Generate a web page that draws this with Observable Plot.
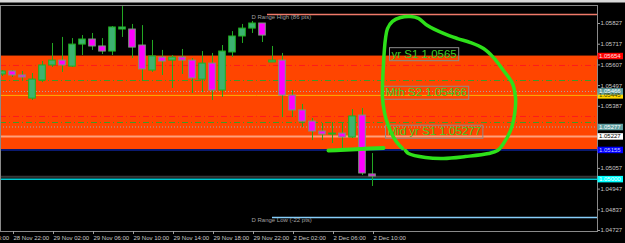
<!DOCTYPE html>
<html>
<head>
<meta charset="utf-8">
<script src="https://cdn.jsdelivr.net/npm/d3@7"></script>
<script src="https://cdn.jsdelivr.net/npm/@observablehq/plot@0.6"></script>
<style>
  html, body { margin: 0; padding: 0; background: #000; }
  #chart svg { display: block; }
</style>
</head>
<body>
<div id="chart"></div>
<script>
// ---------------- DATA ----------------
// hourly candles (bar index = position in array)
const candleOpen  = [1.05556,1.05572,1.05551,1.05428,1.05524,1.05604,1.05630,1.05598,1.05715,1.05742,1.05705,1.05678,1.05795,1.05795,1.05710,1.05577,1.05646,1.05630,1.05646,1.05630,1.05529,1.05614,1.05471,1.05673,1.05758,1.05800,1.05827,1.05620,1.05630,1.05444,1.05365,1.05306,1.05253,1.05237,1.05242,1.05221,1.05338,1.05025];
const candleHigh  = [1.05577,1.05577,1.05572,1.05561,1.05625,1.05721,1.05753,1.05747,1.05763,1.05774,1.05747,1.05811,1.05917,1.05822,1.05816,1.05737,1.05684,1.05657,1.05689,1.05641,1.05678,1.05668,1.05710,1.05784,1.05822,1.05838,1.05827,1.05705,1.05668,1.05471,1.05397,1.05322,1.05296,1.05301,1.05296,1.05370,1.05375,1.05136];
const candleLow   = [1.05545,1.05540,1.05524,1.05418,1.05513,1.05593,1.05567,1.05593,1.05657,1.05684,1.05662,1.05657,1.05753,1.05641,1.05519,1.05567,1.05551,1.05482,1.05556,1.05455,1.05460,1.05418,1.05434,1.05646,1.05721,1.05774,1.05726,1.05620,1.05327,1.05327,1.05274,1.05205,1.05205,1.05189,1.05163,1.05216,1.05019,1.04961];
const candleClose = [1.05572,1.05551,1.05540,1.05529,1.05604,1.05630,1.05604,1.05715,1.05742,1.05705,1.05678,1.05806,1.05806,1.05699,1.05583,1.05652,1.05625,1.05646,1.05630,1.05535,1.05614,1.05471,1.05678,1.05758,1.05800,1.05827,1.05763,1.05630,1.05444,1.05365,1.05306,1.05253,1.05237,1.05242,1.05221,1.05333,1.05030,1.05014];

// x-axis tick bars and labels
const xTickIdx = [-3, 1, 5, 9, 13, 17, 21, 25, 29, 33, 37];
const xTickLab = ["28 Nov 18:00","28 Nov 22:00","29 Nov 02:00","29 Nov 06:00","29 Nov 10:00","29 Nov 14:00","29 Nov 18:00","29 Nov 22:00","2 Dec 02:00","2 Dec 06:00","2 Dec 10:00"];

// y-axis ticks (1.05167 is hidden behind the 1.05155 price box in the original)
const yTicks = [1.05827,1.05717,1.05607,1.05497,1.05387,1.05277,1.05057,1.04947,1.04837,1.04727];

// shaded zone
const bandLow = 1.05155, bandHigh = 1.05654;

// horizontal levels
const levelPrice = [1.05604, 1.05524, 1.05466, 1.05445, 1.05333, 1.05301, 1.05277, 1.05227, 1.05155, 1.05012, 1.05000];

// daily range lines (start bar, price, label)
const rangePrice = [1.05875, 1.04796];
const rangeStart = [26.5, 27];
const rangeLabel = ["D Range High (86 pts)", "D Range Low (-22 pts)"];

// price boxes on the right axis
const boxPrice = [1.05445, 1.05654, 1.05466, 1.05277, 1.05227, 1.05155, 1.05000];
const boxText  = ["1.05445","1.05654","1.05466","1.05277","1.05227","1.05155","1.05000"];

// text annotations (bar, price, text)
const annText  = ["yr S1 1.0565", "Mth S2 1.05466", "Mid yr S1 1.05277"];
const annBar   = [38.9, 38.3, 38.5];
const annPrice = [1.05665, 1.05460, 1.05253];

// hand-drawn loop (bar, price)
const loopBar   = [40.3,40.6,42.3,44.1,46.3,48.6,49.5,50.1,50.8,51.1,51.3,51.3,51.0,50.1,49.1,48.1,46.8,45.5,44.1,42.5,41.6,40.8,39.8,39.0,38.5,38.3,38.1,38.0,38.2,38.5,39.3,40.0];
const loopPrice = [1.05152,1.05136,1.05115,1.05110,1.05120,1.05136,1.05152,1.05189,1.05258,1.05312,1.05391,1.05434,1.05508,1.05577,1.05646,1.05694,1.05726,1.05747,1.05774,1.05816,1.05854,1.05864,1.05859,1.05838,1.05800,1.05747,1.05614,1.05434,1.05354,1.05296,1.05205,1.05163];
// hand-drawn underline (bar, price)
const underBar   = [32.6, 33.8, 35.8, 38.1];
const underPrice = [1.05152, 1.05155, 1.05160, 1.05165];

// ---------------- STYLES ----------------
const LEVEL_STYLE = [
  {c:"#ff1a1a", dash:"6,3,1,3", w:1},
  {c:"#3f9a2a", dash:"6,3,1,3", w:1},
  {c:"#a8a8a8", dash:"1,2", w:1},
  {c:"#ffb000", dash:null, w:1},
  {c:"#ff1a1a", dash:"6,3,1,3", w:1},
  {c:"#3f9a2a", dash:"6,3,1,3", w:1},
  {c:"#a8a8a8", dash:"1,2", w:1},
  {c:"#ffa07a", dash:null, w:2},
  {c:"#0a1a70", dash:null, w:2},
  {c:"#383838", dash:null, w:2},
  {c:"#00c8d0", dash:null, w:1.5}
];
const RANGE_COLOR = ["#f07a6a", "#87cefa"];
const BOX_BG = ["#ffd700", "#ff0000", "#5f9ea0", "#5f9ea0", "#ffffff", "#0000ff", "#00ffff"];
const BOX_FG = ["#404000", "#ffe0e0", "#ffffff", "#ffffff", "#000000", "#c8c8ff", "#ffffff"];

const candles = candleOpen.map((o, i) => ({i, o, h: candleHigh[i], l: candleLow[i], c: candleClose[i], up: candleClose[i] >= o}));
const levels = levelPrice.map((p, k) => ({p, ...LEVEL_STYLE[k]}));
const ranges = rangePrice.map((p, k) => ({p, x1: rangeStart[k], label: rangeLabel[k], color: RANGE_COLOR[k]}));
const boxes = boxPrice.map((p, k) => ({p, t: boxText[k], bg: BOX_BG[k], fg: BOX_FG[k]}));
const anns = annText.map((t, k) => ({t, i: annBar[k], p: annPrice[k]}));
const loop = loopBar.map((i, k) => ({i, p: loopPrice[k]}));
const under = underBar.map((i, k) => ({i, p: underPrice[k]}));

const xDomain = [-0.2, 59.5];
const yDomain = [1.047217, 1.059227];
const halfBody = 0.33;

const levelMarks = levels.map(l => Plot.ruleY([l], {y: "p", x1: xDomain[0], x2: xDomain[1], stroke: l.c, strokeWidth: l.w, strokeDasharray: l.dash || undefined}));

const chart = Plot.plot({
  width: 625, height: 243,
  marginLeft: 0, marginRight: 28, marginTop: 5, marginBottom: 12,
  x: {domain: xDomain, axis: null},
  y: {domain: yDomain, axis: null},
  style: {background: "linear-gradient(#d9d9d9 0px, #d9d9d9 2px, #707070 2px, #707070 3px, #000 3px)", fontFamily: "'Liberation Sans', Arial, sans-serif", color: "#c8c8c8"},
  marks: [
    Plot.rect([{lo: bandLow, hi: bandHigh}], {x1: xDomain[0], x2: xDomain[1], y1: "lo", y2: "hi", fill: "#ff4500"}),
    ...levelMarks,
    Plot.ruleY(ranges, {y: "p", x1: "x1", x2: xDomain[1], stroke: "color", strokeWidth: 1.5}),
    Plot.text(ranges, {y: "p", x: 24.9, text: "label", textAnchor: "start", lineAnchor: "top", dy: 0, fontSize: 6, fill: "#a0a0a0"}),
    Plot.ruleX(candles, {x: "i", y1: "l", y2: "h", stroke: "#22a822", strokeWidth: 1}),
    Plot.rect(candles, {x1: d => d.i - halfBody, x2: d => d.i + halfBody, y1: "o", y2: "c",
      fill: d => d.up ? "#3cb371" : "#ff00ff", stroke: d => d.up ? "#1fb01f" : "#7a9a7a", strokeWidth: 1}),
    Plot.frame({stroke: "#8a8a8a"}),
    Plot.axisY(yTicks, {anchor: "right", tickFormat: d => d.toFixed(5), tickSize: 2, tickPadding: 1, fontSize: 6, fill: "#c8c8c8", stroke: "#a0a0a0", label: null}),
    Plot.axisX(xTickIdx, {anchor: "bottom", tickFormat: d => xTickLab[xTickIdx.indexOf(d)], tickSize: 3, tickPadding: 1, textAnchor: "start", dx: 1, fontSize: 6, fill: "#c8c8c8", stroke: "#a0a0a0", label: null}),
    Plot.ruleY(boxes, {y: "p", x1: xDomain[1] + 0.05, x2: xDomain[1] + 2.6, stroke: "bg", strokeWidth: 6.5}),
    Plot.text(boxes, {y: "p", x: xDomain[1] + 0.15, text: "t", textAnchor: "start", fontSize: 6, fill: "fg"}),
    Plot.text(anns, {x: "i", y: "p", text: "t", textAnchor: "start", fontSize: 11.5, fill: "#3ccc28"}),
    Plot.line(loop, {x: "i", y: "p", stroke: "#2ee01a", strokeWidth: 3.5, curve: "catmull-rom"}),
    Plot.line(under, {x: "i", y: "p", stroke: "#2ee01a", strokeWidth: 4, curve: "catmull-rom"})
  ]
});

document.getElementById("chart").appendChild(chart);

// boxes around annotation texts, sized from the rendered text
chart.querySelectorAll("text").forEach(t => {
  if (annText.includes(t.textContent)) {
    const b = t.getBBox();
    const r = document.createElementNS("http://www.w3.org/2000/svg", "rect");
    r.setAttribute("x", b.x - 2);
    r.setAttribute("y", b.y);
    r.setAttribute("width", b.width + 4);
    r.setAttribute("height", b.height + 1);
    r.setAttribute("fill", "none");
    r.setAttribute("stroke", "#8c8c8c");
    if (t.getAttribute("transform")) r.setAttribute("transform", t.getAttribute("transform"));
    t.parentNode.insertBefore(r, t);
  }
});
</script>
</body>
</html>
